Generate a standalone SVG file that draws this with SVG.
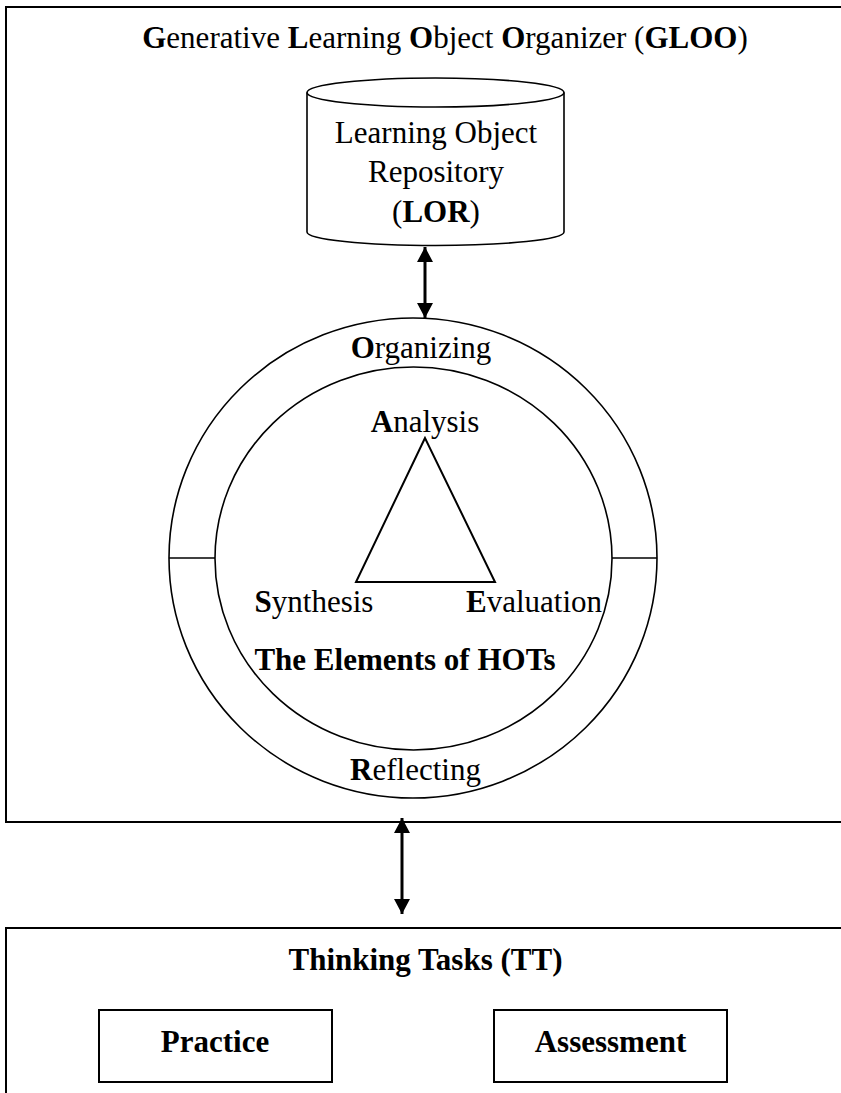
<svg xmlns="http://www.w3.org/2000/svg" width="841" height="1093" viewBox="0 0 841 1093">
<style>
text{font-family:"Liberation Serif","Times New Roman",serif;font-size:31px;fill:#000;text-anchor:middle}
.b{font-weight:bold}
.box{fill:none;stroke:#000;stroke-width:2}
.thin{fill:none;stroke:#000;stroke-width:1.6}
.conn{stroke:#000;stroke-width:3;fill:none}
</style>
<defs>
<marker id="ah" viewBox="0 0 15 16" refX="15" refY="8" markerWidth="15" markerHeight="16" markerUnits="userSpaceOnUse" orient="auto-start-reverse">
<path d="M0,0 L15,8 L0,16 z" fill="#000"/>
</marker>
</defs>
<rect fill="#fff" x="0" y="0" width="841" height="1093"/>
<g id="gloo">
<rect class="box" x="6" y="7" width="900" height="815"/>
<text x="445" y="48"><tspan class="b">G</tspan>enerative <tspan class="b">L</tspan>earning <tspan class="b">O</tspan>bject <tspan class="b">O</tspan>rganizer (<tspan class="b">GLOO</tspan>)</text>
</g>
<g id="lor">
<path class="thin" d="M307,92.5 L307,232 A128.5,13.5 0 0 0 564,232 L564,92.5"/>
<ellipse class="thin" cx="435.5" cy="92.5" rx="128.5" ry="14.5" fill="#fff"/>
<text x="436" y="143">Learning Object</text>
<text x="436" y="182">Repository</text>
<text x="436" y="222">(<tspan class="b">LOR</tspan>)</text>
</g>
<g id="ring">
<ellipse class="thin" cx="413" cy="558" rx="244" ry="240"/>
<ellipse class="thin" cx="413.5" cy="558.5" rx="198.5" ry="191.5"/>
<line class="thin" x1="169" y1="558" x2="215" y2="558"/>
<line class="thin" x1="612" y1="558" x2="657" y2="558"/>
<text x="421" y="358"><tspan class="b">O</tspan>rganizing</text>
<text x="415.5" y="780"><tspan class="b">R</tspan>eflecting</text>
</g>
<g id="hots">
<polygon points="425,438 356,582 495,582" fill="none" stroke="#000" stroke-width="2"/>
<text x="425" y="432"><tspan class="b">A</tspan>nalysis</text>
<text x="314" y="612"><tspan class="b">S</tspan>ynthesis</text>
<text x="534" y="612"><tspan class="b">E</tspan>valuation</text>
<text class="b" x="405" y="670">The Elements of HOTs</text>
</g>
<g id="tt">
<rect class="box" x="6" y="928" width="900" height="200"/>
<text class="b" x="425.5" y="970">Thinking Tasks (TT)</text>
</g>
<g id="practice">
<rect class="box" x="99" y="1010" width="233" height="72"/>
<text class="b" x="215" y="1052">Practice</text>
</g>
<g id="assessment">
<rect class="box" x="494" y="1010" width="233" height="72"/>
<text class="b" x="610.5" y="1052">Assessment</text>
</g>
<g id="connectors">
<line class="conn" x1="425" y1="247" x2="425" y2="318" marker-start="url(#ah)" marker-end="url(#ah)"/>
<line class="conn" x1="402" y1="818" x2="402" y2="914" marker-start="url(#ah)" marker-end="url(#ah)"/>
</g>
</svg>
